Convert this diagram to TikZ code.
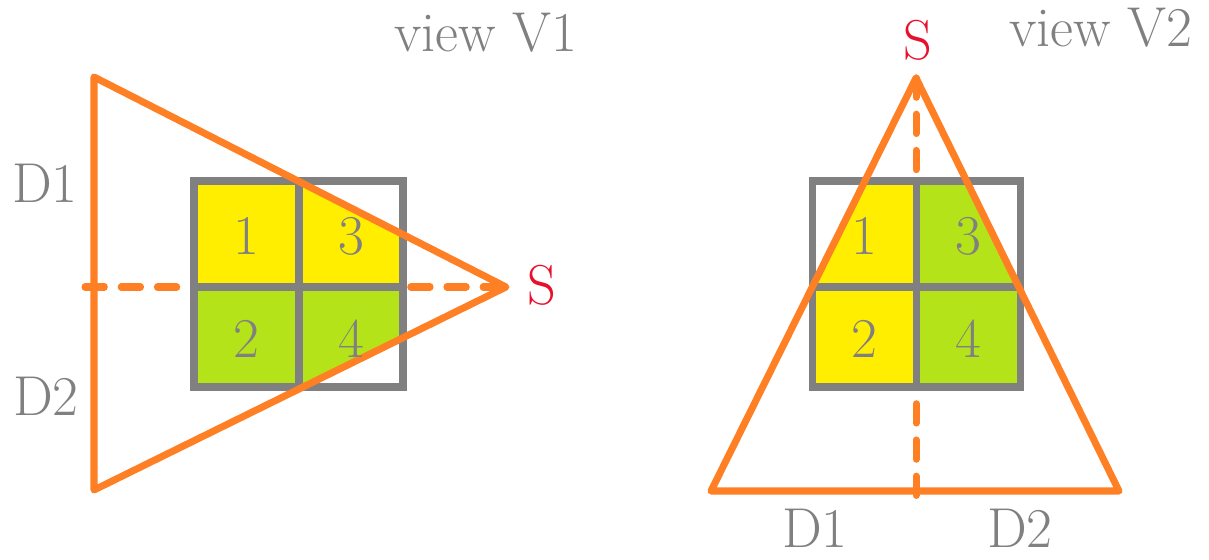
\documentclass[tikz,border=0pt]{standalone}
\usepackage{xcolor}
\usepackage{tikz}
\usetikzlibrary{calc}

\definecolor{rayor}{RGB}{255,128,36}
\definecolor{gridgr}{RGB}{128,128,128}
\definecolor{cellyl}{RGB}{255,238,0}
\definecolor{cellgn}{RGB}{181,227,26}
\definecolor{srcred}{RGB}{232,17,45}

\begin{document}
\begin{tikzpicture}[x=0.02cm,y=-0.02cm,
  beam/.style={draw=rayor,line width=4pt,line join=round,line cap=round},
  midline/.style={draw=rayor,line width=4pt,line cap=round,dash pattern=on 11pt off 9.6pt},
  cellbox/.style={draw=gridgr,line width=4pt},
  lbl/.style={text=gridgr,inner sep=0pt,font=\rmfamily\fontsize{32}{38}\selectfont},
  srclbl/.style={lbl,text=srcred}]
\useasboundingbox (0,0) rectangle (1209,560);

% view V1 : source on the right
\coordinate (A1) at (94,77); \coordinate (B1) at (94,490); \coordinate (S1) at (506,287);
\coordinate (E1) at (85,287);
\draw[midline] (E1)--(S1);
\fill[white] (194,181) rectangle (403,387);
\begin{scope}
\clip (A1)--(B1)--(S1)--cycle;
\fill[cellyl] (194,181) rectangle (403,287);
\fill[cellgn] (194,287) rectangle (403,387);
\end{scope}
\draw[cellbox] (194,181) rectangle (403,387) (299,181)--(299,387) (194,287)--(403,287);
\draw[beam] (A1)--(B1)--(S1)--cycle;
\node[lbl] (c11) at (246,236) {1};
\node[lbl] (c13) at (351,236) {3};
\node[lbl] (c12) at (246,339) {2};
\node[lbl] (c14) at (351,339) {4};
\node[lbl] (d11) at (45,183) {D1};
\node[lbl] (d12) at (46,396) {D2};
\node[srclbl] (s1) at (542,285) {S};
\node[lbl] (v1) at (486,33) {view V1};

% view V2 : source on top
\coordinate (A2) at (711,491); \coordinate (B2) at (1119,491); \coordinate (S2) at (916,78);
\coordinate (E2) at (916,505);
\draw[midline] (S2)--(E2);
\fill[white] (812,181) rectangle (1020,387);
\begin{scope}
\clip (A2)--(B2)--(S2)--cycle;
\fill[cellyl] (812,181) rectangle (916,387);
\fill[cellgn] (916,181) rectangle (1020,387);
\end{scope}
\draw[cellbox] (812,181) rectangle (1020,387) (916,181)--(916,387) (812,287)--(1020,287);
\draw[beam] (A2)--(B2)--(S2)--cycle;
\node[lbl] (c21) at (864,236) {1};
\node[lbl] (c23) at (968,236) {3};
\node[lbl] (c22) at (864,339) {2};
\node[lbl] (c24) at (968,339) {4};
\node[lbl] (d21) at (815,528) {D1};
\node[lbl] (d22) at (1020,528) {D2};
\node[srclbl] (s2) at (918,40) {S};
\node[lbl] (v2) at (1101,28) {view V2};
\end{tikzpicture}
\end{document}
